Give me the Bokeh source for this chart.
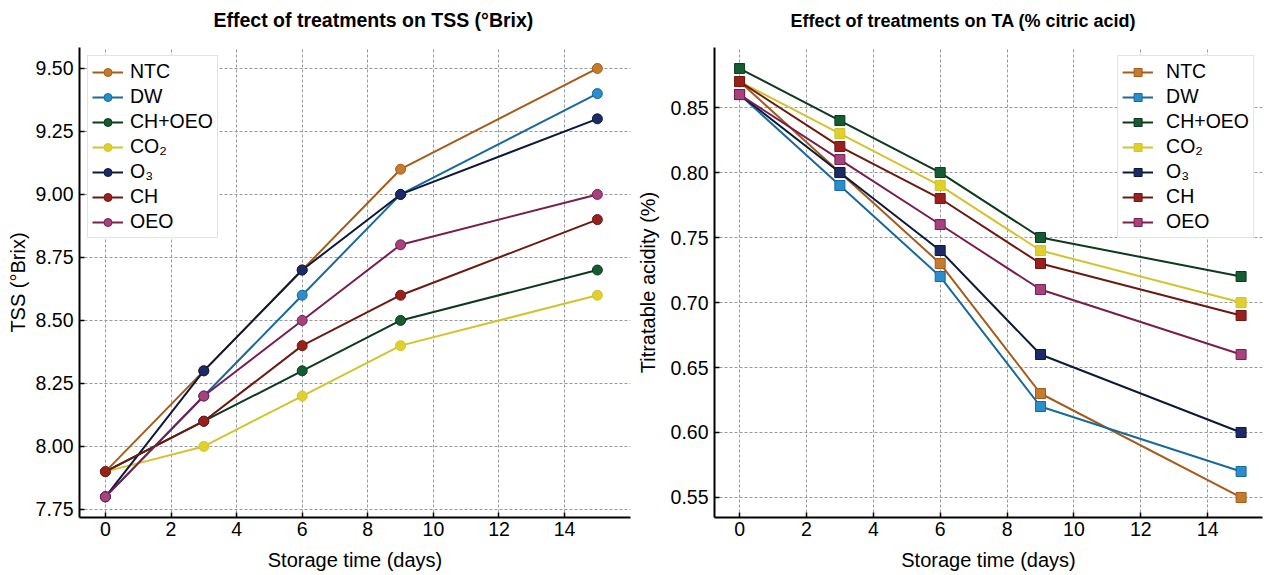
from bokeh.plotting import figure
from bokeh.layouts import row
from bokeh.models import FixedTicker, PrintfTickFormatter, Legend, LegendItem, Range1d, Title
from bokeh.embed import file_html
from bokeh.resources import INLINE

days = [0, 3, 6, 9, 15]
treatments = ["NTC", "DW", "CH+OEO", "CO\u2082", "O\u2083", "CH", "OEO"]

tss_ntc = [7.9, 8.3, 8.7, 9.1, 9.5]
tss_dw = [7.8, 8.2, 8.6, 9.0, 9.4]
tss_choeo = [7.9, 8.1, 8.3, 8.5, 8.7]
tss_co2 = [7.9, 8.0, 8.2, 8.4, 8.6]
tss_o3 = [7.8, 8.3, 8.7, 9.0, 9.3]
tss_ch = [7.9, 8.1, 8.4, 8.6, 8.9]
tss_oeo = [7.8, 8.2, 8.5, 8.8, 9.0]

ta_ntc = [0.87, 0.80, 0.73, 0.63, 0.55]
ta_dw = [0.86, 0.79, 0.72, 0.62, 0.57]
ta_choeo = [0.88, 0.84, 0.80, 0.75, 0.72]
ta_co2 = [0.87, 0.83, 0.79, 0.74, 0.70]
ta_o3 = [0.86, 0.80, 0.74, 0.66, 0.60]
ta_ch = [0.87, 0.82, 0.78, 0.73, 0.69]
ta_oeo = [0.86, 0.81, 0.76, 0.71, 0.66]

x_ticks = [0, 2, 4, 6, 8, 10, 12, 14]
tss_ticks = [7.75, 8.00, 8.25, 8.50, 8.75, 9.00, 9.25, 9.50]
ta_ticks = [0.55, 0.60, 0.65, 0.70, 0.75, 0.80, 0.85]

line_colors = ["#a55c1b", "#19699c", "#0b3a1f", "#d3c32e", "#0c1a3a", "#6a1a10", "#781f50"]
fill_colors = ["#c47b2e", "#2a8dcc", "#155c30", "#e0d02c", "#1d2a68", "#9a2020", "#a6427c"]

tss_series = [tss_ntc, tss_dw, tss_choeo, tss_co2, tss_o3, tss_ch, tss_oeo]
ta_series = [ta_ntc, ta_dw, ta_choeo, ta_co2, ta_o3, ta_ch, ta_oeo]

FONT = "Liberation Sans"
FS = "19.5px"


def make_fig(title, title_fs, ylabel, series, yticks, xr, yr, width, bl, br, marker, legend_loc,
             title_offset, ylabel_standoff, leg_standoff):
    p = figure(width=width, height=575, output_backend="svg", toolbar_location=None,
               x_range=Range1d(*xr), y_range=Range1d(*yr),
               min_border_left=bl, min_border_right=br, min_border_top=47, min_border_bottom=58)
    # thin spacer between the frame and the title, so that the title sits higher
    p.add_layout(Title(text=" ", text_font_size="1px", standoff=13), "above")
    p.title.text = title
    p.title.align = "left"
    p.title.offset = title_offset
    p.title.text_font = FONT
    p.title.text_font_size = title_fs
    p.title.text_font_style = "bold"
    p.title.text_color = "black"
    p.title.standoff = 2
    p.outline_line_color = None
    p.background_fill_color = "white"

    for ax in (p.xaxis[0], p.yaxis[0]):
        ax.axis_line_width = 2
        ax.axis_line_color = "black"
        ax.major_tick_in = 5
        ax.major_tick_out = 0
        ax.major_tick_line_width = 1.5
        ax.minor_tick_line_color = None
        ax.major_label_text_font = FONT
        ax.major_label_text_font_size = FS
        ax.major_label_text_color = "black"
        ax.axis_label_text_font = FONT
        ax.axis_label_text_font_size = "20px"
        ax.axis_label_text_font_style = "normal"
        ax.axis_label_text_color = "black"
    p.xaxis.ticker = FixedTicker(ticks=x_ticks)
    p.yaxis.ticker = FixedTicker(ticks=yticks)
    p.yaxis.formatter = PrintfTickFormatter(format="%.2f")
    p.xaxis.axis_label = "Storage time (days)"
    p.yaxis.axis_label = ylabel
    p.xaxis.major_label_standoff = 4
    p.xaxis.axis_label_standoff = 10
    p.yaxis.major_label_standoff = 6
    p.yaxis.axis_label_standoff = ylabel_standoff

    for g in (p.xgrid[0], p.ygrid[0]):
        g.grid_line_color = "#9a9a9a"
        g.grid_line_dash = "3 2"
        g.grid_line_width = 1

    items = []
    for name, ys, lc, fc in zip(treatments, series, line_colors, fill_colors):
        r1 = p.line(days, ys, line_color=lc, line_width=2)
        r2 = p.scatter(days, ys, marker=marker, size=10, fill_color=fc, line_color=lc, line_width=1)
        items.append(LegendItem(label=name, renderers=[r1, r2]))
    leg = Legend(items=items, location=legend_loc, margin=8,
                 label_text_font=FONT, label_text_font_size=FS, label_text_color="black",
                 glyph_width=31, glyph_height=20, label_height=20, spacing=2,
                 padding=4, label_standoff=leg_standoff,
                 border_line_color="#c8c8c8", border_line_width=1.5,
                 background_fill_color="white", background_fill_alpha=1.0)
    p.add_layout(leg, "center")
    return p


p1 = make_fig("Effect of treatments on TSS (\u00b0Brix)", "19.5px", "TSS (\u00b0Brix)", tss_series, tss_ticks,
              (-0.79, 16.01), (7.718, 9.583), 633, 79, 3, "circle", "top_left", 134, 4, 7)
p2 = make_fig("Effect of treatments on TA (% citric acid)", "18px", "Titratable acidity (%)", ta_series, ta_ticks,
              (-0.75, 15.64), (0.5346, 0.8962), 631, 81, 2, "square", "top_right", 76, 9, 13)

layout = row(p1, p2, spacing=0)
open("out.html", "w").write(file_html(layout, INLINE))
